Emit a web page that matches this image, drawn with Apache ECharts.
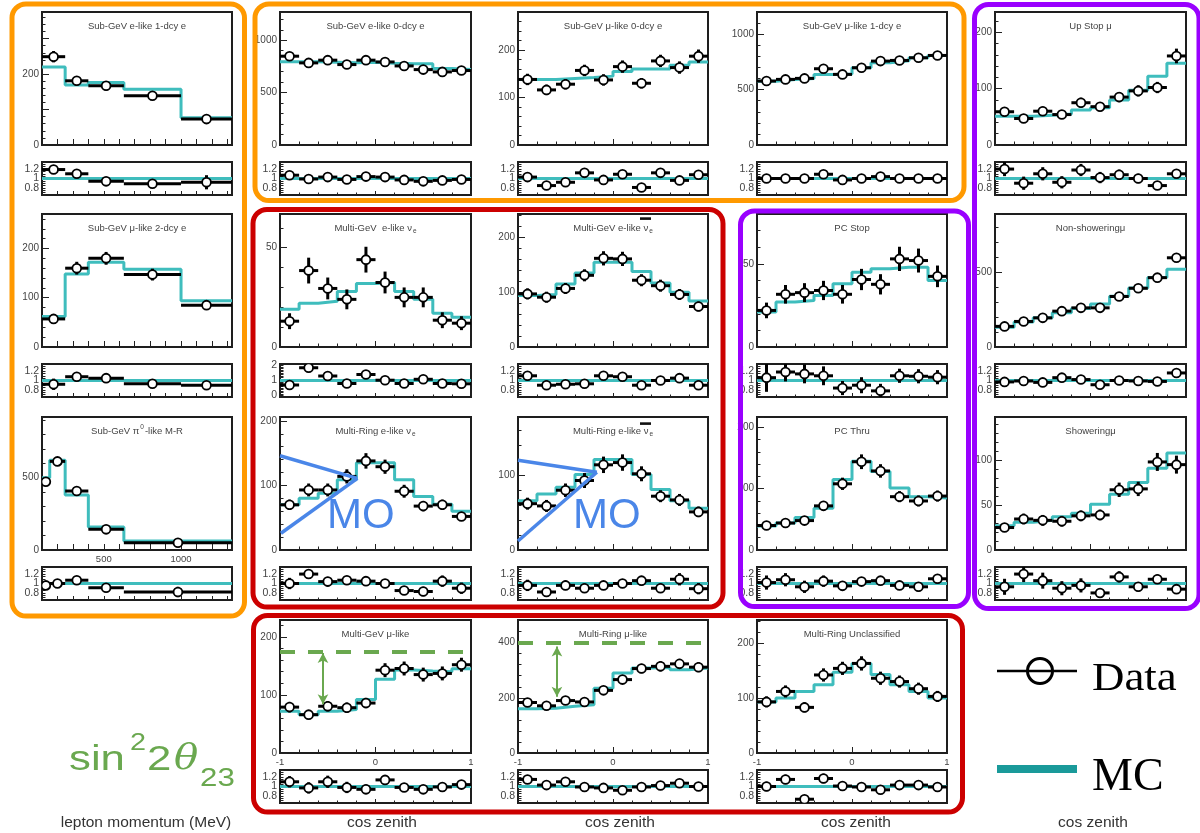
<!DOCTYPE html>
<html><head><meta charset="utf-8">
<script src="https://cdn.jsdelivr.net/npm/echarts@6/dist/echarts.min.js"></script>
<style>html,body{margin:0;padding:0;background:#fff}#c{width:1200px;height:833px}</style>
</head><body><div id="c"></div>
<script>
// ---------- bin edges ----------
const momEdges = [100, 250, 400, 630, 1000, 1330];
const pi0Edges = [100, 150, 250, 400, 630, 1330];
const zenEdges = [-1, -0.8, -0.6, -0.4, -0.2, 0, 0.2, 0.4, 0.6, 0.8, 1];
const upEdges = [-1, -0.9, -0.8, -0.7, -0.6, -0.5, -0.4, -0.3, -0.2, -0.1, 0];

// ---------- Sub-GeV e-like 1-dcy e ----------
const sgE1Data = [249, 181, 167, 139, 73];
const sgE1Err = [16, 13, 13, 12, 9];
const sgE1Mc = [220, 169, 176, 157, 77];
const sgE1Ratio = [1.19, 1.10, 0.94, 0.89, 0.92];
const sgE1RErr = [0.06, 0.07, 0.07, 0.07, 0.15];
// ---------- Sub-GeV mu-like 2-dcy e ----------
const sgMu2Data = [57, 160, 180, 147, 85];
const sgMu2Err = [8, 13, 13, 12, 9];
const sgMu2Mc = [62, 148, 172, 158, 94];
const sgMu2Ratio = [0.92, 1.08, 1.05, 0.93, 0.90];
const sgMu2RErr = [0.12, 0.07, 0.06, 0.06, 0.09];
// ---------- Sub-GeV pi0-like M-R ----------
const sgPiData = [472, 613, 408, 143, 50];
const sgPiErr = [22, 25, 20, 12, 7];
const sgPiMc = [500, 620, 380, 159, 62];
const sgPiRatio = [0.96, 1.0, 1.07, 0.91, 0.82];
const sgPiRErr = [0.05, 0.04, 0.05, 0.07, 0.11];
// ---------- Sub-GeV e-like 0-dcy e ----------
const sgE0Data = [848, 784, 810, 768, 810, 793, 755, 720, 698, 711];
const sgE0Err = [29, 28, 28, 28, 28, 28, 27, 27, 26, 27];
const sgE0Mc = [795, 795, 790, 785, 790, 780, 775, 775, 730, 720];
const sgE0Ratio = [1.07, 0.99, 1.03, 0.98, 1.04, 1.03, 0.97, 0.94, 0.96, 0.98];
const sgE0RErr = [0.04, 0.04, 0.04, 0.04, 0.04, 0.04, 0.04, 0.04, 0.04, 0.04];
// ---------- Sub-GeV mu-like 0-dcy e ----------
const sgMu0Data = [138, 116, 128, 157, 137, 165, 130, 177, 163, 187];
const sgMu0Err = [12, 11, 11, 12, 12, 13, 11, 13, 13, 14];
const sgMu0Mc = [138, 138, 140, 142, 145, 155, 160, 160, 168, 175];
const sgMu0Ratio = [1.03, 0.85, 0.92, 1.12, 0.97, 1.09, 0.81, 1.12, 0.96, 1.08];
const sgMu0RErr = [0.09, 0.09, 0.08, 0.09, 0.08, 0.08, 0.07, 0.08, 0.08, 0.08];
// ---------- Sub-GeV mu-like 1-dcy e ----------
const sgMu1Data = [577, 592, 601, 688, 637, 697, 757, 763, 787, 808];
const sgMu1Err = [24, 24, 25, 26, 25, 26, 27, 28, 28, 28];
const sgMu1Mc = [575, 590, 600, 637, 640, 697, 742, 760, 787, 808];
const sgMu1Ratio = [1.0, 1.0, 1.0, 1.09, 0.97, 1.0, 1.04, 1.0, 1.0, 1.0];
const sgMu1RErr = [0.04, 0.04, 0.04, 0.04, 0.04, 0.04, 0.04, 0.04, 0.04, 0.04];
// ---------- Up Stop mu ----------
const upStopData = [59, 47, 60, 54, 75, 68, 85, 96, 102, 158];
const upStopErr = [8, 7, 8, 7, 9, 8, 9, 10, 10, 13];
const upStopMc = [51, 51, 53, 55, 62, 66, 80, 97, 122, 145];
const upStopRatio = [1.2, 0.9, 1.1, 0.92, 1.18, 1.02, 1.08, 1.0, 0.85, 1.1];
const upStopRErr = [0.15, 0.14, 0.14, 0.13, 0.13, 0.12, 0.11, 0.1, 0.08, 0.08];
// ---------- Multi-GeV e-like nue ----------
const mgNueData = [13, 38.5, 29.5, 24, 44, 32.5, 25, 25, 13.5, 12];
const mgNueErr = [4, 6.5, 5.5, 5, 6.5, 5.5, 5, 5, 4, 3.5];
const mgNueMc = [19, 22, 23, 28, 32, 32.5, 28, 24, 17, 15];
const mgNueRatio = [0.7, 1.85, 1.3, 0.8, 1.4, 1.02, 0.8, 1.08, 0.8, 0.78];
const mgNueRErr = [0.25, 0.3, 0.25, 0.2, 0.2, 0.18, 0.18, 0.2, 0.25, 0.25];
// ---------- Multi-GeV e-like nuebar ----------
const mgNuebData = [97, 91, 107, 131, 162, 161, 122, 112, 96, 74];
const mgNuebErr = [10, 10, 10, 11, 13, 13, 11, 11, 10, 9];
const mgNuebMc = [94, 96, 115, 135, 155, 155, 138, 117, 100, 84];
const mgNuebRatio = [1.1, 0.9, 0.92, 0.93, 1.1, 1.08, 0.9, 1.0, 1.05, 0.9];
const mgNuebRErr = [0.1, 0.1, 0.09, 0.09, 0.08, 0.08, 0.09, 0.09, 0.1, 0.1];
// ---------- PC Stop ----------
const pcStopData = [22, 31.7, 32.7, 34, 31.7, 40.6, 37.7, 53, 52, 42.5];
const pcStopErr = [4.7, 5.6, 5.7, 5.8, 5.6, 6.4, 6.1, 7.3, 7.2, 6.5];
const pcStopMc = [21, 27, 28, 31, 38, 45, 47, 48, 48, 40];
const pcStopRatio = [1.06, 1.18, 1.14, 1.1, 0.84, 0.9, 0.78, 1.1, 1.09, 1.07];
const pcStopRErr = [0.3, 0.2, 0.2, 0.2, 0.15, 0.17, 0.15, 0.15, 0.15, 0.15];
// ---------- Non-showering mu ----------
const nonShData = [138, 171, 195, 240, 262, 262, 338, 393, 464, 597];
const nonShErr = [12, 13, 14, 15, 16, 16, 18, 20, 22, 24];
const nonShMc = [132, 168, 195, 230, 258, 288, 340, 395, 465, 520];
const nonShRatio = [0.97, 0.99, 0.96, 1.06, 1.02, 0.91, 1.0, 0.99, 0.98, 1.16];
const nonShRErr = [0.07, 0.06, 0.06, 0.06, 0.05, 0.05, 0.05, 0.05, 0.04, 0.04];
// ---------- Multi-Ring e-like nue ----------
const mrNueData = [70, 93, 93, 114, 138, 129, 91, 68, 70, 52];
const mrNueErr = [8, 10, 10, 11, 12, 11, 10, 8, 8, 7];
const mrNueMc = [70, 80, 88, 109, 135, 135, 109, 83, 71, 60];
const mrNueRatio = [1.0, 1.2, 1.04, 1.07, 1.05, 1.0, 0.85, 0.83, 1.05, 0.9];
const mrNueRErr = [0.12, 0.1, 0.1, 0.09, 0.08, 0.08, 0.09, 0.1, 0.12, 0.12];
// ---------- Multi-Ring e-like nuebar ----------
const mrNuebData = [62, 59, 80, 93, 114, 117, 102, 72, 67, 51];
const mrNuebErr = [8, 8, 9, 10, 11, 11, 10, 8, 8, 7];
const mrNuebMc = [66, 75, 84, 101, 121, 121, 101, 81, 66, 56];
const mrNuebRatio = [0.96, 0.82, 0.96, 0.9, 0.96, 1.0, 1.06, 0.9, 1.09, 0.89];
const mrNuebRErr = [0.12, 0.1, 0.1, 0.1, 0.09, 0.09, 0.1, 0.1, 0.13, 0.12];
// ---------- PC Thru ----------
const pcThruData = [40, 44, 48, 72, 108, 144, 129, 87, 80, 88];
const pcThruErr = [6, 7, 7, 8, 10, 12, 11, 9, 9, 9];
const pcThruMc = [39, 44, 53, 68, 115, 145, 128, 101, 87, 85];
const pcThruRatio = [1.02, 1.08, 0.93, 1.05, 0.95, 1.04, 1.06, 0.96, 0.93, 1.1];
const pcThruRErr = [0.15, 0.14, 0.13, 0.12, 0.09, 0.08, 0.08, 0.09, 0.1, 0.1];
// ---------- Showering mu ----------
const shData = [25, 34.5, 33, 32, 38, 39, 67, 68, 98, 95];
const shErr = [5, 6, 6, 6, 6, 6, 8, 8, 10, 10];
const shMc = [27, 31, 33, 37, 41, 51, 62, 75, 91, 108];
const shRatio = [0.93, 1.2, 1.06, 0.9, 0.96, 0.8, 1.14, 0.93, 1.09, 0.88];
const shRErr = [0.17, 0.17, 0.17, 0.15, 0.15, 0.1, 0.12, 0.1, 0.1, 0.08];
// ---------- Multi-GeV mu-like ----------
const mgMuData = [79, 66, 80.5, 78, 86, 142.6, 145.5, 135, 137, 152];
const mgMuErr = [9, 8, 9, 9, 9, 12, 12, 12, 12, 12];
const mgMuMc = [72, 66, 72, 75, 92, 127, 143, 141, 140, 145];
const mgMuRatio = [1.1, 0.97, 1.1, 0.98, 0.94, 1.14, 0.98, 0.94, 0.99, 1.04];
const mgMuRErr = [0.12, 0.12, 0.13, 0.12, 0.1, 0.08, 0.08, 0.08, 0.08, 0.08];
// ---------- Multi-Ring mu-like ----------
const mrMuData = [183, 171, 190, 185, 227, 266, 306, 314, 323, 311];
const mrMuErr = [14, 13, 14, 14, 15, 16, 17, 18, 18, 18];
const mrMuMc = [160, 162, 169, 175, 235, 290, 308, 310, 302, 308];
const mrMuRatio = [1.15, 1.03, 1.1, 0.99, 0.97, 0.92, 0.99, 1.02, 1.07, 1.0];
const mrMuRErr = [0.07, 0.07, 0.07, 0.07, 0.07, 0.06, 0.06, 0.06, 0.06, 0.06];
// ---------- Multi-Ring Unclassified ----------
const mrUncData = [93, 112, 83, 142, 154, 163, 136, 130, 117, 103];
const mrUncErr = [10, 11, 9, 12, 12, 13, 12, 11, 11, 10];
const mrUncMc = [93, 100, 112, 124, 147, 163, 143, 124, 112, 100];
const mrUncRatio = [1.0, 1.15, 0.73, 1.17, 1.01, 0.99, 0.93, 1.03, 1.03, 0.99];
const mrUncRErr = [0.1, 0.1, 0.08, 0.1, 0.08, 0.08, 0.08, 0.09, 0.09, 0.1];

// ---------- annotation values (data units) ----------
const mgMuOscLevel = 175, mgMuArrow = [-0.55, 84, 172];
const mrMuOscLevel = 400, mrMuArrow = [-0.59, 204, 386];
const moNueLines = [[[-1, 146], [-0.19, 111]], [[-0.99, 26], [-0.19, 111]]];
const moNuebLines = [[[-1, 120], [-0.17, 104]], [[-1, 12], [-0.17, 104]]];

// ---------- layout ----------
const COLX = [42, 280, 518, 757, 995];
const COLW = [190, 191, 190, 190, 191];
const ROWY = [12, 214, 417, 620];
const MAIN_H = 133, RATIO_OFF = 150, RATIO_H = 33;
const FONT = '"Liberation Sans", Arial, Helvetica, sans-serif';
const MC_COLOR = '#3fbdbd';
const GREEN = '#6aa84f', BLUE = '#4a86e8';

const panels = [
  {t:'Sub-GeV e-like 1-dcy e', c:0, r:0, kind:'mom', edges:momEdges, d:sgE1Data, e:sgE1Err, mc:sgE1Mc, ra:sgE1Ratio, re:sgE1RErr, ymax:375, yint:100, ylab:[0,200]},
  {t:'Sub-GeV μ-like 2-dcy e', c:0, r:1, kind:'mom', edges:momEdges, d:sgMu2Data, e:sgMu2Err, mc:sgMu2Mc, ra:sgMu2Ratio, re:sgMu2RErr, ymax:270, yint:100, ylab:[0,100,200]},
  {t:'Sub-GeV π{sup|0}-like M-R', c:0, r:2, kind:'mom', edges:pi0Edges, d:sgPiData, e:sgPiErr, mc:sgPiMc, ra:sgPiRatio, re:sgPiRErr, ymax:920, yint:500, ylab:[0,500], xlab:[500,1000]},
  {t:'Sub-GeV e-like 0-dcy e', c:1, r:0, kind:'zen', edges:zenEdges, d:sgE0Data, e:sgE0Err, mc:sgE0Mc, ra:sgE0Ratio, re:sgE0RErr, ymax:1270, yint:500, ylab:[0,500,1000]},
  {t:'Sub-GeV μ-like 0-dcy e', c:2, r:0, kind:'zen', edges:zenEdges, d:sgMu0Data, e:sgMu0Err, mc:sgMu0Mc, ra:sgMu0Ratio, re:sgMu0RErr, ymax:280, yint:100, ylab:[0,100,200]},
  {t:'Sub-GeV μ-like 1-dcy e', c:3, r:0, kind:'zen', edges:zenEdges, d:sgMu1Data, e:sgMu1Err, mc:sgMu1Mc, ra:sgMu1Ratio, re:sgMu1RErr, ymax:1200, yint:500, ylab:[0,500,1000]},
  {t:'Up Stop μ', c:4, r:0, kind:'up', edges:upEdges, d:upStopData, e:upStopErr, mc:upStopMc, ra:upStopRatio, re:upStopRErr, ymax:236, yint:100, ylab:[0,100,200]},
  {t:'Multi-GeV  e-like ν{sub|e}', c:1, r:1, kind:'zen', edges:zenEdges, d:mgNueData, e:mgNueErr, mc:mgNueMc, ra:mgNueRatio, re:mgNueRErr, ymax:67, yint:50, ylab:[0,50], rmin:-0.1, rmax:2.1, rint:0.1, rlab:[0,1,2]},
  {t:'Multi-GeV e-like ν{sub|e}', c:2, r:1, kind:'zen', edges:zenEdges, d:mgNuebData, e:mgNuebErr, mc:mgNuebMc, ra:mgNuebRatio, re:mgNuebRErr, ymax:243, yint:100, ylab:[0,100,200], bar:[640, 218.5]},
  {t:'PC Stop', c:3, r:1, kind:'zen', edges:zenEdges, d:pcStopData, e:pcStopErr, mc:pcStopMc, ra:pcStopRatio, re:pcStopRErr, ymax:80, yint:50, ylab:[0,50]},
  {t:'Non-showeringμ', c:4, r:1, kind:'up', edges:upEdges, d:nonShData, e:nonShErr, mc:nonShMc, ra:nonShRatio, re:nonShRErr, ymax:890, yint:500, ylab:[0,500]},
  {t:'Multi-Ring e-like ν{sub|e}', c:1, r:2, kind:'zen', edges:zenEdges, d:mrNueData, e:mrNueErr, mc:mrNueMc, ra:mrNueRatio, re:mrNueRErr, ymax:206, yint:100, ylab:[0,100,200], mo:moNueLines},
  {t:'Multi-Ring e-like ν{sub|e}', c:2, r:2, kind:'zen', edges:zenEdges, d:mrNuebData, e:mrNuebErr, mc:mrNuebMc, ra:mrNuebRatio, re:mrNuebRErr, ymax:178, yint:100, ylab:[0,100], mo:moNuebLines, bar:[640, 423.5]},
  {t:'PC Thru', c:3, r:2, kind:'zen', edges:zenEdges, d:pcThruData, e:pcThruErr, mc:pcThruMc, ra:pcThruRatio, re:pcThruRErr, ymax:217, yint:100, ylab:[0,100,200]},
  {t:'Showeringμ', c:4, r:2, kind:'up', edges:upEdges, d:shData, e:shErr, mc:shMc, ra:shRatio, re:shRErr, ymax:148, yint:50, ylab:[0,50,100]},
  {t:'Multi-GeV μ-like', c:1, r:3, kind:'zen', edges:zenEdges, d:mgMuData, e:mgMuErr, mc:mgMuMc, ra:mgMuRatio, re:mgMuRErr, ymax:229, yint:100, ylab:[0,100,200], xlab:[-1,0,1], osc:mgMuOscLevel, arrow:mgMuArrow},
  {t:'Multi-Ring μ-like', c:2, r:3, kind:'zen', edges:zenEdges, d:mrMuData, e:mrMuErr, mc:mrMuMc, ra:mrMuRatio, re:mrMuRErr, ymax:482, yint:200, ylab:[0,200,400], xlab:[-1,0,1], osc:mrMuOscLevel, arrow:mrMuArrow},
  {t:'Multi-Ring Unclassified', c:3, r:3, kind:'zen', edges:zenEdges, d:mrUncData, e:mrUncErr, mc:mrUncMc, ra:mrUncRatio, re:mrUncRErr, ymax:242, yint:100, ylab:[0,100,200], xlab:[-1,0,1]}
];

const inList = (arr, v) => (arr || []).some(a => Math.abs(a - v) < 1e-7);
const fmtNum = v => String(Math.round(v * 1000) / 1000);

function xCfg(kind) {
  if (kind === 'mom') return {min: 100, max: 1330, interval: 100, minor: false};
  if (kind === 'up') return {min: -1, max: 0, interval: 0.5, minor: true};
  return {min: -1, max: 1, interval: 1, minor: true};
}

function renderData(params, api) {
  const lo = api.value(0), hi = api.value(1), v = api.value(2), e = api.value(3);
  const mid = (lo + hi) / 2;
  const pL = api.coord([lo, v]), pR = api.coord([hi, v]);
  const pT = api.coord([mid, v + e]), pB = api.coord([mid, v - e]);
  const c = api.coord([mid, v]);
  return {type: 'group', children: [
    {type: 'line', shape: {x1: pL[0], y1: pL[1], x2: pR[0], y2: pR[1]}, style: {stroke: '#000', lineWidth: 3}},
    {type: 'line', shape: {x1: pT[0], y1: pT[1], x2: pB[0], y2: pB[1]}, style: {stroke: '#000', lineWidth: 3}},
    {type: 'circle', shape: {cx: c[0], cy: c[1], r: 4.4}, style: {fill: '#fff', stroke: '#000', lineWidth: 1.8}}
  ]};
}

const grid = [], xAxis = [], yAxis = [], series = [], graphic = [];

panels.forEach((p, i) => {
  const gx = COLX[p.c], gw = COLW[p.c], gy = ROWY[p.r];
  const gi = i * 2;
  const gbase = {show: true, borderColor: '#1e1e1e', borderWidth: 2, backgroundColor: 'transparent', outerBoundsMode: 'none', containLabel: false};
  grid.push(Object.assign({left: gx, top: gy, width: gw, height: MAIN_H}, gbase));
  grid.push(Object.assign({left: gx, top: gy + RATIO_OFF, width: gw, height: RATIO_H}, gbase));
  const xc = xCfg(p.kind);
  [0, 1].forEach(k => {
    xAxis.push({
      gridIndex: gi + k, type: 'value', min: xc.min, max: xc.max, interval: xc.interval, position: 'bottom',
      axisLine: {show: false, onZero: false}, splitLine: {show: false},
      axisTick: {show: true, inside: true, length: k ? 4 : 6, lineStyle: {color: '#222', width: 1}},
      minorTick: {show: xc.minor, splitNumber: 5, length: k ? 2.5 : 3.5, lineStyle: {color: '#222', width: 1}},
      minorSplitLine: {show: false},
      axisLabel: {show: k === 0 && !!p.xlab, fontSize: 9.5, color: '#444', margin: 4, fontFamily: FONT,
        formatter: v => inList(p.xlab, v) ? fmtNum(v) : ''}
    });
  });
  yAxis.push({
    gridIndex: gi, type: 'value', min: 0, max: p.ymax, interval: p.yint, position: 'left',
    axisLine: {show: false, onZero: false}, splitLine: {show: false},
    axisTick: {show: true, inside: true, length: 7, lineStyle: {color: '#222', width: 1}},
    minorTick: {show: true, splitNumber: 5, length: 3.5, lineStyle: {color: '#222', width: 1}},
    minorSplitLine: {show: false},
    axisLabel: {fontSize: 10, color: '#444', margin: 3, fontFamily: FONT,
      formatter: v => inList(p.ylab, v) ? fmtNum(v) : ''}
  });
  const rmin = p.rmin !== undefined ? p.rmin : 0.65;
  const rmax = p.rmax !== undefined ? p.rmax : 1.35;
  const rint = p.rint || 0.05;
  const rlab = p.rlab || [0.8, 1, 1.2];
  yAxis.push({
    gridIndex: gi + 1, type: 'value', min: rmin, max: rmax, interval: rint, position: 'left',
    axisLine: {show: false, onZero: false}, splitLine: {show: false},
    axisTick: {show: true, inside: true, length: 3.5, lineStyle: {color: '#222', width: 1}},
    axisLabel: {fontSize: 10.5, color: '#444', margin: 3, fontFamily: FONT,
      formatter: v => inList(rlab, v) ? fmtNum(v) : ''}
  });

  // MC histogram (main)
  const markData = [];
  if (p.osc !== undefined) {
    markData.push({yAxis: p.osc, symbol: 'none', lineStyle: {color: GREEN, width: 4, type: [15, 13]}});
  }
  if (p.arrow) {
    markData.push([
      {coord: [p.arrow[0], p.arrow[1]], symbol: 'arrow', symbolSize: [8, 10]},
      {coord: [p.arrow[0], p.arrow[2]], symbol: 'arrow', symbolSize: [8, 10], lineStyle: {color: GREEN, width: 2, type: 'solid'}}
    ]);
  }
  if (p.mo) {
    p.mo.forEach(seg => {
      markData.push([
        {coord: seg[0], symbol: 'none'},
        {coord: seg[1], symbol: 'none', lineStyle: {color: BLUE, width: 3.5, type: 'solid'}}
      ]);
    });
  }
  series.push({
    type: 'line', xAxisIndex: gi, yAxisIndex: gi, step: 'end', symbol: 'none', silent: true, z: 2,
    data: p.edges.map((x, j) => [x, p.mc[Math.min(j, p.mc.length - 1)]]),
    lineStyle: {color: MC_COLOR, width: 3},
    markLine: markData.length ? {
      silent: true, symbol: 'none', animation: false, label: {show: false}, emphasis: {disabled: true},
      lineStyle: {color: GREEN, width: 2, type: 'solid'}, data: markData
    } : undefined
  });
  // data points (main)
  series.push({
    type: 'custom', xAxisIndex: gi, yAxisIndex: gi, z: 3, clip: true, silent: true,
    renderItem: renderData, encode: {x: [0, 1], y: [2]},
    data: p.d.map((v, j) => [p.edges[j], p.edges[j + 1], v, p.e[j]])
  });
  // ratio MC line at unity
  series.push({
    type: 'line', xAxisIndex: gi + 1, yAxisIndex: gi + 1, symbol: 'none', silent: true, z: 2,
    data: [[p.edges[0], 1], [p.edges[p.edges.length - 1], 1]],
    lineStyle: {color: MC_COLOR, width: 3}
  });
  // ratio data
  series.push({
    type: 'custom', xAxisIndex: gi + 1, yAxisIndex: gi + 1, z: 3, clip: true, silent: true,
    renderItem: renderData, encode: {x: [0, 1], y: [2]},
    data: p.ra.map((v, j) => [p.edges[j], p.edges[j + 1], v, p.re[j]])
  });

  // panel title
  graphic.push({
    type: 'text', x: gx + gw / 2, y: gy + 14, z: 50,
    style: {text: p.t, fill: '#444', fontSize: 9.5, fontFamily: FONT, align: 'center', verticalAlign: 'middle',
      textAlign: 'center', textVerticalAlign: 'middle',
      rich: {sub: {fontSize: 6.5, fill: '#444', fontFamily: FONT, padding: [7, 0, 0, 1]},
             sup: {fontSize: 6.5, fill: '#444', fontFamily: FONT, padding: [0, 1, 7, 1]}}}
  });
  // anti-neutrino bar
  if (p.bar) {
    graphic.push({type: 'rect', z: 51, shape: {x: p.bar[0], y: p.bar[1] - 1.2, width: 11, height: 2.6}, style: {fill: '#111'}});
  }
});

// ---------- category boxes ----------
const boxes = [
  {x: 12, y: 4, w: 232.5, h: 612, c: '#ff9900'},
  {x: 255, y: 4, w: 709, h: 196.5, c: '#ff9900'},
  {x: 253, y: 209.5, w: 470, h: 397.5, c: '#cc0000'},
  {x: 253.5, y: 615.5, w: 709, h: 196.5, c: '#cc0000'},
  {x: 740.5, y: 211, w: 228, h: 395.5, c: '#9900ff'},
  {x: 974.5, y: 4.5, w: 224.5, h: 604, c: '#9900ff'}
];
boxes.forEach(b => graphic.push({
  type: 'rect', z: 100, shape: {x: b.x, y: b.y, width: b.w, height: b.h, r: 14},
  style: {fill: 'none', stroke: b.c, lineWidth: 5}
}));

// ---------- MO labels ----------
graphic.push({type: 'text', x: 327, y: 516, z: 60, style: {text: 'MO', fill: BLUE, fontSize: 42, fontFamily: FONT, verticalAlign: 'middle', textVerticalAlign: 'middle'}});
graphic.push({type: 'text', x: 573, y: 516, z: 60, style: {text: 'MO', fill: BLUE, fontSize: 42, fontFamily: FONT, verticalAlign: 'middle', textVerticalAlign: 'middle'}});

// ---------- sin^2 2theta_23 ----------
const sinStyle = {fill: GREEN, fontFamily: FONT, verticalAlign: 'middle', textVerticalAlign: 'middle'};
graphic.push({type: 'text', x: 69, y: 760, scaleX: 1.25, z: 60, style: Object.assign({text: 'sin', fontSize: 35}, sinStyle)});
graphic.push({type: 'text', x: 130, y: 743, scaleX: 1.2, z: 60, style: Object.assign({text: '2', fontSize: 24}, sinStyle)});
graphic.push({type: 'text', x: 147, y: 760, scaleX: 1.25, z: 60, style: Object.assign({text: '2', fontSize: 35}, sinStyle)});
graphic.push({type: 'text', x: 174, y: 760, scaleX: 1.15, z: 60, style: {text: 'θ', fontSize: 35, fontStyle: 'italic', fontFamily: '"DejaVu Serif", "Liberation Serif", serif', fill: GREEN, verticalAlign: 'middle', textVerticalAlign: 'middle'}});
graphic.push({type: 'text', x: 200, y: 779, scaleX: 1.25, z: 60, style: Object.assign({text: '23', fontSize: 25}, sinStyle)});

// ---------- legend ----------
graphic.push({type: 'line', z: 60, shape: {x1: 997, y1: 671, x2: 1077, y2: 671}, style: {stroke: '#000', lineWidth: 2.5}});
graphic.push({type: 'circle', z: 61, shape: {cx: 1040, cy: 671, r: 12.5}, style: {fill: 'none', stroke: '#000', lineWidth: 3}});
graphic.push({type: 'text', x: 1092, y: 679.5, scaleX: 1.15, z: 60, style: {text: 'Data', fill: '#000', fontSize: 39, fontFamily: '"Liberation Serif", "Times New Roman", serif', verticalAlign: 'middle', textVerticalAlign: 'middle'}});
graphic.push({type: 'line', z: 60, shape: {x1: 997, y1: 769, x2: 1077, y2: 769}, style: {stroke: '#1a9a9a', lineWidth: 8}});
graphic.push({type: 'text', x: 1092, y: 778, z: 60, style: {text: 'MC', fill: '#000', fontSize: 46, fontFamily: '"Liberation Serif", "Times New Roman", serif', verticalAlign: 'middle', textVerticalAlign: 'middle'}});

// ---------- axis titles ----------
const axTitles = [
  {x: 146, text: 'lepton momentum (MeV)'},
  {x: 382, text: 'cos zenith'},
  {x: 620, text: 'cos zenith'},
  {x: 856, text: 'cos zenith'},
  {x: 1093, text: 'cos zenith'}
];
axTitles.forEach(a => graphic.push({type: 'text', x: a.x, y: 823, z: 60,
  style: {text: a.text, fill: '#333', fontSize: 15.5, fontFamily: FONT, align: 'center', textAlign: 'center', verticalAlign: 'middle', textVerticalAlign: 'middle'}}));

const chart = echarts.init(document.getElementById('c'), null, {renderer: 'canvas'});
chart.setOption({
  animation: false,
  backgroundColor: '#fff',
  textStyle: {fontFamily: FONT},
  grid: grid, xAxis: xAxis, yAxis: yAxis, series: series,
  graphic: {elements: graphic}
});
</script>
</body></html>
